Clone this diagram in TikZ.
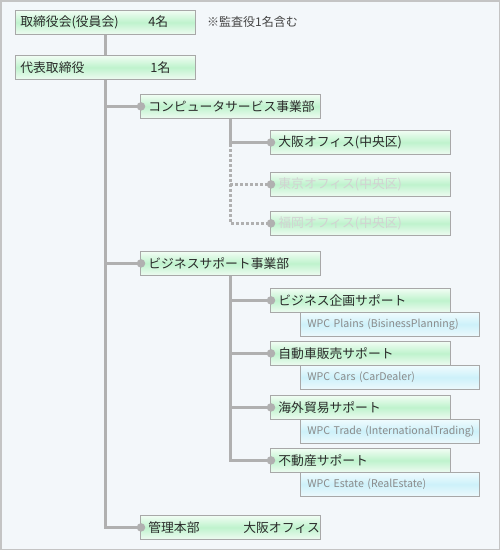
\documentclass[tikz,border=0pt]{standalone}
\usepackage{fontspec}
\setmainfont{Noto Sans CJK JP}
\begin{document}
\begin{tikzpicture}[x=1pt,y=-1pt,
  base/.style={anchor=north west, draw=boxline, line width=0.8pt, minimum height=24pt,
    inner ysep=2pt, align=left, font=\fontsize{12.8pt}{14pt}\selectfont, text=textdark},
  gbox/.style={base, top color=gtop, bottom color=gbot, middle color=gmid},
  wbox/.style={base, top color=btop, bottom color=bbot, middle color=bmid,
    inner xsep=7pt, text width=165pt, text=wpctext, font=\fontsize{10.6pt}{12pt}\selectfont},
  topbox/.style={gbox, inner xsep=5pt, text width=170pt},
  dotbox/.style={gbox, inner xsep=8pt, text width=164pt},
  conn/.style={draw=linegray, line width=3pt},
  dotconn/.style={draw=linegray, line width=3pt, dash pattern=on 3pt off 2pt},
  knob/.style={circle, fill=linegray, inner sep=0pt, minimum size=8.5pt}
]
\definecolor{bg}{HTML}{F3F7FA}
\definecolor{frame}{HTML}{C4C4C4}
\definecolor{boxline}{HTML}{A8A8A8}
\definecolor{linegray}{HTML}{B0B0B0}
\definecolor{textdark}{HTML}{2A2A2A}
\definecolor{notetext}{HTML}{444444}
\definecolor{faint}{HTML}{D2D2D2}
\definecolor{wpctext}{HTML}{8A8A8A}
\definecolor{gtop}{HTML}{F2FDF4}
\definecolor{gmid}{HTML}{BFF3CD}
\definecolor{gbot}{HTML}{EEFBF1}
\definecolor{btop}{HTML}{F0FBFE}
\definecolor{bmid}{HTML}{CDF1FA}
\definecolor{bbot}{HTML}{EDF9FC}
\useasboundingbox (0,0) rectangle (500,550);
\fill[bg] (0,0) rectangle (500,550);
\draw[frame, line width=1.5pt] (0.75,0.75) rectangle (499.25,549.25);

% nodes
\node[topbox] (b1) at (15,10) {\makebox[128pt][l]{取締役会(役員会)}4名};
\node[anchor=west, text=notetext, font=\fontsize{12pt}{13pt}\selectfont, inner sep=0pt] (note) at (207,22) {※監査役1名含む};
\node[topbox] (b2) at (15,55) {\makebox[130pt][l]{代表取締役}1名};
\node[dotbox] (comp) at (140,94) {コンピュータサービス事業部};
\node[dotbox] (osaka) at (270,130) {大阪オフィス(中央区)};
\node[dotbox, text=faint] (tokyo) at (270,172) {東京オフィス(中央区)};
\node[dotbox, text=faint] (fukuoka) at (270,211) {福岡オフィス(中央区)};
\node[dotbox] (biz) at (140,251) {ビジネスサポート事業部};
\node[dotbox] (plan) at (270,288) {ビジネス企画サポート};
\node[wbox] (planw) at (300,312) {\mbox{WPC Plains (BisinessPlanning)}};
\node[dotbox] (cars) at (270,341) {自動車販売サポート};
\node[wbox] (carsw) at (300,365) {\mbox{WPC Cars (CarDealer)}};
\node[dotbox] (trade) at (270,395) {海外貿易サポート};
\node[wbox] (tradew) at (300,419) {\mbox{WPC Trade (InternationalTrading)}};
\node[dotbox] (estate) at (270,448) {不動産サポート};
\node[wbox] (estatew) at (300,472) {\mbox{WPC Estate (RealEstate)}};
\node[dotbox] (kanri) at (140,515) {\makebox[95pt][l]{管理本部}大阪オフィス};

% connectors
\path[conn] (b1.south) -- (b2.north);
\path[conn] (b2.south) |- (kanri.west);
\path[conn] (b2.south) |- (comp.west);
\path[conn] (b2.south) |- (biz.west);
\path[conn] (comp.south) |- (osaka.west);
\coordinate (dstart) at ([yshift=3pt]comp.south |- osaka.west);
\path[dotconn] (dstart) |- (fukuoka.west);
\path[dotconn] (comp.south |- tokyo.west) -- (tokyo.west);
\path[conn] (biz.south) |- (estate.west);
\path[conn] (biz.south |- plan.west) -- (plan.west);
\path[conn] (biz.south |- cars.west) -- (cars.west);
\path[conn] (biz.south |- trade.west) -- (trade.west);

% knobs
\foreach \n in {comp,osaka,tokyo,fukuoka,biz,plan,cars,trade,estate,kanri}
  \node[knob] (k\n) at ([xshift=1pt]\n.west) {};
\end{tikzpicture}
\end{document}
